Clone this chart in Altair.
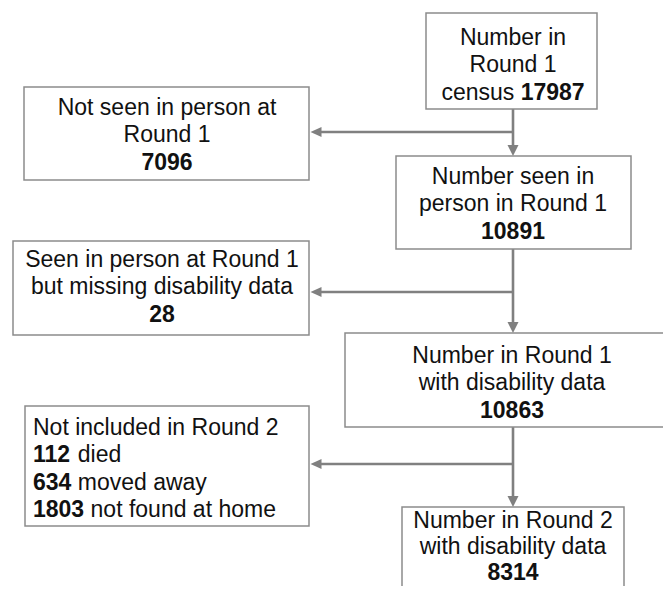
import altair as alt
import pandas as pd

# ---------------- data ----------------
box_text = [
    ["Number in", "Round 1", "census"],
    ["Not seen in person at", "Round 1"],
    ["Number seen in", "person in Round 1"],
    ["Seen in person at Round 1", "but missing disability data"],
    ["Number in Round 1", "with disability data"],
    ["Not included in Round 2"],
    ["Number in Round 2", "with disability data"],
]
box_counts = [17987, 7096, 10891, 28, 10863, None, 8314]
dropout_reasons = ["died", "moved away", "not found at home"]
dropout_counts = [112, 634, 1803]

# ---------------- layout (page pixel coordinates) ----------------
FONT = "Liberation Sans"
FS = 23
LH = 27.4
LINE_COLOR = "#808080"
BOX_COLOR = "#8c8c8c"
AH = 11  # arrow head size
MAIN_X = 513

boxes = [
    dict(x0=426, x1=597, y0=13, y1=109, first=32, mode="center", cx=513, inline=True),
    dict(x0=24, x1=309, y0=87, y1=180, first=28, mode="center", cx=167),
    dict(x0=396, x1=631, y0=156, y1=249, first=28, mode="center", cx=513),
    dict(x0=13, x1=309, y0=241, y1=335, first=26, mode="center", cx=162),
    dict(x0=345, x1=670.5, y0=333, y1=427, first=30, mode="center", cx=512),
    dict(x0=25, x1=309, y0=406, y1=526, first=29, mode="left", lx=33),
    dict(x0=402, x1=624, y0=507, y1=620, first=20.5, lh=26.3, mode="center", cx=513),
]
main_idx = [0, 2, 4, 6]
side_idx = [1, 3, 5]
branch_y = [132, 292, 464]

REG = {' ': 278, 'a': 556, 'c': 500, 'd': 556, 'e': 556, 'f': 278, 'h': 556,
       'i': 222, 'm': 833, 'n': 556, 'o': 556, 's': 500, 't': 278, 'u': 556,
       'v': 500, 'w': 722, 'y': 500}


def tw(s, bold):
    if bold:
        return sum(278 if c == ' ' else 556 for c in s) * FS / 1000
    return sum(REG.get(c, 556) for c in s) * FS / 1000


SPACE = 278 * FS / 1000

# ---------------- build tables ----------------
rects = pd.DataFrame([dict(x=b["x0"], x2=b["x1"], y=b["y0"], y2=b["y1"]) for b in boxes])

texts = []
for i, b in enumerate(boxes):
    lines = []
    for j, t in enumerate(box_text[i]):
        lines.append([(t, False)])
    if b.get("inline"):
        lines[-1] = [(box_text[i][-1], False), (str(box_counts[i]), True)]
    elif box_counts[i] is not None:
        lines.append([(str(box_counts[i]), True)])
    if b["mode"] == "left":
        for r, c in zip(dropout_reasons, dropout_counts):
            lines.append([(str(c), True), (r, False)])
    lh = b.get("lh", LH)
    for k, segs in enumerate(lines):
        yb = b["y0"] + b["first"] + k * lh
        if b["mode"] == "center" and len(segs) == 1:
            texts.append(dict(x=b["cx"], y=yb, text=segs[0][0],
                              w="bold" if segs[0][1] else "normal", anchor="center"))
        else:
            total = sum(tw(s, bd) for s, bd in segs) + SPACE * (len(segs) - 1)
            x = b["cx"] - total / 2 if b["mode"] == "center" else b["lx"]
            for s, bd in segs:
                texts.append(dict(x=x, y=yb, text=s, w="bold" if bd else "normal", anchor="left"))
                x += tw(s, bd) + SPACE
texts = pd.DataFrame(texts)

rules = []
arrows = []
for k in range(len(main_idx) - 1):
    a = boxes[main_idx[k]]
    nb = boxes[main_idx[k + 1]]
    s = boxes[side_idx[k]]
    by = branch_y[k]
    rules.append(dict(x=MAIN_X, x2=MAIN_X, y=a["y1"], y2=nb["y0"] - AH + 1))
    rules.append(dict(x=MAIN_X, x2=s["x1"] + AH, y=by, y2=by))
    arrows.append(dict(x=MAIN_X, y=nb["y0"] - AH / 2, dir="down"))
    arrows.append(dict(x=s["x1"] + 1.5 + AH / 2, y=by, dir="left"))
rules = pd.DataFrame(rules)
arrows = pd.DataFrame(arrows)

# ---------------- chart ----------------
W, H = 655, 578
xs = alt.Scale(domain=[8, 8 + W], nice=False, zero=False)
ys = alt.Scale(domain=[8, 8 + H], nice=False, zero=False, reverse=True)
X = lambda f="x": alt.X(f"{f}:Q", scale=xs, axis=None)
Y = lambda f="y": alt.Y(f"{f}:Q", scale=ys, axis=None)

box_layer = alt.Chart(rects).mark_rect(fill="white", stroke=BOX_COLOR, strokeWidth=1.5, clip=True).encode(
    x=X(), x2="x2:Q", y=Y(), y2="y2:Q")

rule_layer = alt.Chart(rules).mark_rule(color=LINE_COLOR, strokeWidth=2.6).encode(
    x=X(), x2="x2:Q", y=Y(), y2="y2:Q")

arrow_layer = alt.Chart(arrows).mark_point(filled=True, opacity=1, color=LINE_COLOR, size=AH * AH).encode(
    x=X(), y=Y(),
    shape=alt.Shape("dir:N", legend=None, scale=alt.Scale(
        domain=["down", "left"],
        range=["M -1 -1 L 1 -1 L 0 1 Z", "M 1 -0.9 L 1 0.9 L -1 0 Z"])))

text_layers = []
for w in ["normal", "bold"]:
    for anc in ["center", "left"]:
        text_layers.append(
            alt.Chart(texts).transform_filter(
                (alt.datum.w == w) & (alt.datum.anchor == anc)
            ).mark_text(font=FONT, fontSize=FS, fontWeight=w, align=anc,
                        baseline="alphabetic", color="#111111").encode(
                x=X(), y=Y(), text="text:N"))

chart = alt.layer(rule_layer, arrow_layer, box_layer, *text_layers).properties(
    width=W, height=H, autosize=alt.AutoSizeParams(type="none"),
    padding=0, background="white"
).configure_view(stroke=None)

chart.save("out.html", embed_options={"renderer": "svg", "actions": False})
